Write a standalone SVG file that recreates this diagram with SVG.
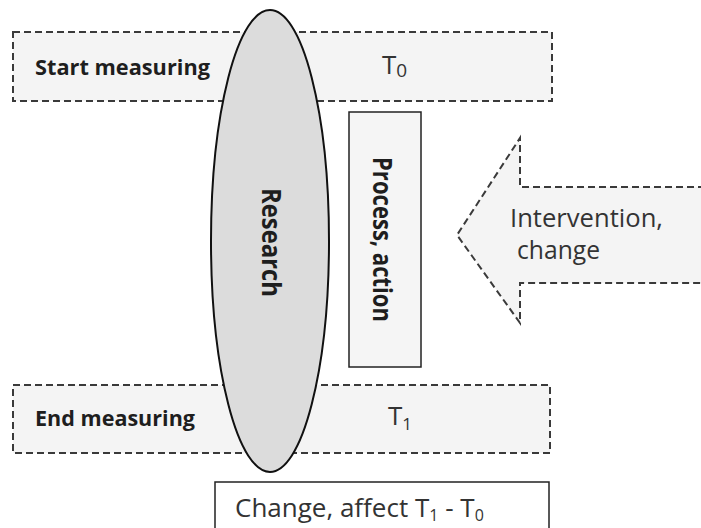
<svg xmlns="http://www.w3.org/2000/svg" width="701" height="528" viewBox="0 0 701 528">
<style>
.dash{fill:#f4f4f4;stroke:#3a3a3a;stroke-width:2;stroke-dasharray:7 4}
.b{font-family:"Open Sans","Liberation Sans",sans-serif;font-weight:bold;font-size:21px;fill:#1e1e1e}
.n{font-family:"Open Sans","Liberation Sans",sans-serif;font-size:26px;fill:#333}
</style>
<rect width="701" height="528" fill="#fff"/>
<g id="start">
<rect class="dash" x="13" y="32" width="539" height="69"/>
<text class="b" x="35" y="75" textLength="175" lengthAdjust="spacingAndGlyphs">Start measuring</text>
<text class="n" x="382" y="74" font-size="25">T<tspan font-size="19" dy="3">0</tspan></text>
</g>
<g id="end">
<rect class="dash" x="13" y="385" width="537" height="68"/>
<text class="b" x="35" y="426" textLength="160" lengthAdjust="spacingAndGlyphs">End measuring</text>
<text class="n" x="388" y="425" font-size="21">T<tspan font-size="17" dy="5">1</tspan></text>
</g>
<g id="research">
<ellipse cx="270" cy="241" rx="59" ry="231" fill="#dcdcdc" stroke="#111" stroke-width="2"/>
<text class="b" font-size="22" transform="translate(262,242.5) rotate(90) scale(1,1.3)" text-anchor="middle" textLength="109" lengthAdjust="spacingAndGlyphs">Research</text>
</g>
<g id="process">
<rect x="349" y="112" width="72" height="255" fill="#f5f5f5" stroke="#222" stroke-width="1.5"/>
<text class="b" font-size="21" transform="translate(373,239.5) rotate(90) scale(1,1.3)" text-anchor="middle" textLength="165" lengthAdjust="spacingAndGlyphs">Process, action</text>
</g>
<g id="intervention">
<path class="dash" d="M705,187 H520 V138 L457,235 L520,323 V283 H705"/>
<text class="n" font-size="22"><tspan x="510" y="227" textLength="153" lengthAdjust="spacingAndGlyphs">Intervention,</tspan><tspan x="517" y="259" textLength="83" lengthAdjust="spacingAndGlyphs">change</tspan></text>
</g>
<g id="result">
<rect x="215" y="482" width="334" height="60" fill="#fff" stroke="#222" stroke-width="1.5"/>
<text class="n" font-size="21" x="235" y="517">Change, affect T<tspan font-size="16" dy="4">1</tspan><tspan dy="-4"> - T</tspan><tspan font-size="16" dy="4">0</tspan></text>
</g>
<g id="connectors"/>
</svg>
